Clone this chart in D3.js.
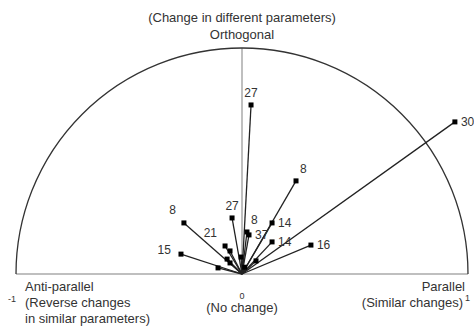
<!DOCTYPE html>
<html>
<head>
<meta charset="utf-8">
<script src="https://cdn.jsdelivr.net/npm/d3@7"></script>
<style>
  body { margin: 0; background: #fff; }
  text { font-family: "Liberation Sans", Arial, sans-serif; fill: #333; }
</style>
</head>
<body>
<div id="chart"></div>
<script>
// vectors: parallel component (x, -1..1) and orthogonal component (y, 0..1)
var parX = [0.942, 0.040, 0.239, -0.257, -0.270, -0.044, 0.022, 0.031, 0.133, 0.133, 0.305, -0.075,
            -0.053, -0.066, -0.004, -0.106, 0.062, -0.053, 0.012];
var ortY = [0.673, 0.748, 0.412, 0.226, 0.088, 0.248, 0.186, 0.173, 0.226, 0.142, 0.128, 0.124,
            0.102, 0.066, 0.075, 0.027, 0.058, 0.049, 0.03];
var labels = ["30", "27", "8", "8", "15", "27", "8", "37", "14", "14", "16", "21",
              "", "", "", "", "", "", ""];
var labelSide = ["right", "above", "aboveRight", "aboveLeft", "left", "above", "aboveRight", "right",
                 "right", "right", "right", "aboveLeft", "", "", "", "", "", "", ""];

var svgWidth = 474;
var svgHeight = 329;

var cx = 242, cy = 274, radius = 226;

var svg = d3.select("#chart").append("svg")
  .attr("width", svgWidth)
  .attr("height", svgHeight);

var xScale = d3.scaleLinear().domain([-1, 1]).range([cx - radius, cx + radius]);
var yScale = d3.scaleLinear().domain([0, 1]).range([cy, cy - radius]);

// baseline and orthogonal axis
svg.append("line")
  .attr("x1", xScale(-1)).attr("x2", xScale(1))
  .attr("y1", yScale(0)).attr("y2", yScale(0))
  .attr("stroke", "#aaa").attr("stroke-width", 1.5);

svg.append("line")
  .attr("x1", xScale(0)).attr("x2", xScale(0))
  .attr("y1", yScale(0)).attr("y2", yScale(1))
  .attr("stroke", "#aaa").attr("stroke-width", 1.5);

// half circle
var arc = d3.arc()
  .innerRadius(radius).outerRadius(radius)
  .startAngle(-Math.PI / 2).endAngle(Math.PI / 2);

svg.append("path")
  .attr("transform", `translate(${xScale(0)}, ${yScale(0)})`)
  .attr("d", arc())
  .attr("fill", "none")
  .attr("stroke", "#333")
  .attr("stroke-width", 1.3);

// vectors
var vec = parX.map(function(x, i) { return {x: x, y: ortY[i], label: labels[i], side: labelSide[i]}; });

svg.append("g").selectAll("line").data(vec).enter()
  .append("line")
  .attr("x1", xScale(0)).attr("y1", yScale(0))
  .attr("x2", d => xScale(d.x)).attr("y2", d => yScale(d.y))
  .attr("stroke", "#222").attr("stroke-width", 1.3);

svg.append("g").selectAll("rect").data(vec).enter()
  .append("rect")
  .attr("x", d => xScale(d.x) - 2.5).attr("y", d => yScale(d.y) - 2.5)
  .attr("width", 5).attr("height", 5)
  .attr("fill", "#000");

var offsets = {
  right: [6, 4, "start"],
  above: [0, -8, "middle"],
  aboveRight: [4, -8, "start"],
  aboveLeft: [-8, -9, "end"],
  left: [-10, 0, "end"]
};

svg.append("g").selectAll("text").data(vec.filter(d => d.label)).enter()
  .append("text")
  .attr("x", d => xScale(d.x) + offsets[d.side][0])
  .attr("y", d => yScale(d.y) + offsets[d.side][1])
  .attr("text-anchor", d => offsets[d.side][2])
  .attr("font-size", "12px")
  .text(d => d.label);

// axis titles
svg.append("text").attr("x", xScale(0)).attr("y", 22)
  .attr("text-anchor", "middle").attr("font-size", "13px")
  .text("(Change in different parameters)");
svg.append("text").attr("x", xScale(0)).attr("y", 39)
  .attr("text-anchor", "middle").attr("font-size", "13px")
  .text("Orthogonal");

svg.append("text").attr("x", 8).attr("y", 302).attr("font-size", "9px").text("-1");
svg.append("text").attr("x", 25).attr("y", 291).attr("font-size", "13px").text("Anti-parallel");
svg.append("text").attr("x", 25).attr("y", 307).attr("font-size", "13px").text("(Reverse changes");
svg.append("text").attr("x", 25).attr("y", 323).attr("font-size", "13px").text("in similar parameters)");

svg.append("text").attr("x", xScale(0)).attr("y", 299)
  .attr("text-anchor", "middle").attr("font-size", "9px").text("0");
svg.append("text").attr("x", xScale(0)).attr("y", 312)
  .attr("text-anchor", "middle").attr("font-size", "13px").text("(No change)");

svg.append("text").attr("x", 465).attr("y", 291)
  .attr("text-anchor", "end").attr("font-size", "13px").text("Parallel");
svg.append("text").attr("x", 463).attr("y", 307)
  .attr("text-anchor", "end").attr("font-size", "13px").text("(Similar changes)");
svg.append("text").attr("x", 465).attr("y", 301).attr("font-size", "9px").text("1");
</script>
</body>
</html>
